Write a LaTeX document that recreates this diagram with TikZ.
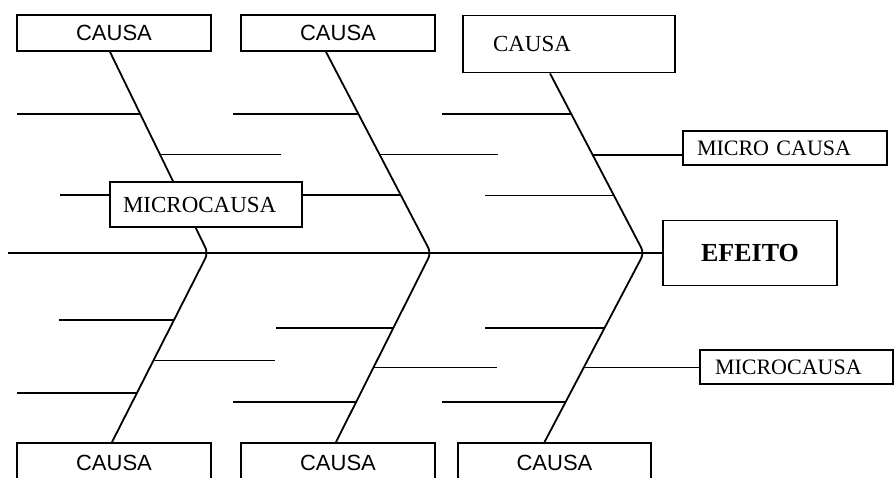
\documentclass[tikz,border=0pt]{standalone}
\usepackage{fontspec}
\setmainfont{Liberation Serif}
\setsansfont{Liberation Sans}
\usetikzlibrary{calc}

\tikzset{
  causebox/.style={draw, fill=white, minimum width=194pt, minimum height=36pt,
    inner sep=0pt, font=\sffamily\fontsize{22}{26}\selectfont},
  microbox/.style={draw, fill=white, minimum height=34pt, inner ysep=0pt,
    align=left, font=\fontsize{22}{26}\selectfont},
}

\begin{document}
\begin{tikzpicture}[x=1pt, y=-1pt, line width=1.8pt]
  \useasboundingbox (0,0) rectangle (894,478);

  % causes above and below the spine
  \node[causebox] (cause1) at (114,33) {CAUSA};
  \node[causebox] (cause2) at (338,33) {CAUSA};
  \node[causebox, minimum width=212pt, minimum height=57pt, inner xsep=30pt,
    text width=152pt, align=left, font=\fontsize{23}{27}\selectfont] (cause3) at (569,44) {CAUSA};
  \node[causebox, minimum height=40pt] (cause4) at (114,463) {CAUSA};
  \node[causebox, minimum height=40pt] (cause5) at (338,463) {CAUSA};
  \node[causebox, minimum height=40pt, minimum width=193pt] (cause6) at (554.5,463) {CAUSA};

  \node[draw, minimum width=174pt, minimum height=65pt,
    font=\bfseries\fontsize{26}{30}\selectfont] (effect) at (750,253) {EFEITO};

  \coordinate (t1) at ([xshift=-4pt]cause1.south);
  \coordinate (t2) at ([xshift=-12pt]cause2.south);
  \coordinate (t3) at ([xshift=-19pt]cause3.south);
  \coordinate (b1) at ([xshift=-2pt]cause4.north);
  \coordinate (b2) at ([xshift=-2pt]cause5.north);
  \coordinate (b3) at ([xshift=-10pt]cause6.north);
  \coordinate (j1) at (208,253);
  \coordinate (j2) at (431,253);
  \coordinate (j3) at (644,253);

  \draw (8,253) -- (effect.west);
  \foreach \n in {1,2,3}
    \draw[rounded corners=6pt] (t\n) -- (j\n) -- (b\n);

  % small bones: start on a cause line, run left (-) or right (+)
  \foreach \a/\b/\t/\l in {t1/j1/0.307/-123, t1/j1/0.51/121, t1/j1/0.713/-120,
      t2/j2/0.307/-125, t2/j2/0.51/118, t3/j3/0.2265/-129, t3/j3/0.68/-129,
      j1/b1/0.3526/-115, j1/b1/0.568/122, j1/b1/0.742/-120,
      j2/b2/0.395/-117, j2/b2/0.605/123, j2/b2/0.789/-123,
      j3/b3/0.395/-120, j3/b3/0.789/-124}
    \draw ($(\a)!\t!(\b)$) -- ++(\l,0);

  \node[microbox, minimum width=192pt, minimum height=45pt, inner xsep=13pt,
    text width=166pt, font=\fontsize{23}{27}\selectfont] (micro1) at (206,204.5) {MICROCAUSA};
  \node[microbox, minimum width=204pt, inner xsep=14pt, text width=176pt] (micro2) at (785,148) {MICRO CAUSA};
  \node[microbox, minimum width=193pt, inner xsep=15pt, text width=163pt] (micro3) at (796.5,367) {MICROCAUSA};

  \coordinate (m1) at ($(t2)!0.713!(j2)$);
  \coordinate (m2) at ($(t3)!0.453!(j3)$);
  \coordinate (m3) at ($(j3)!0.605!(b3)$);
  \draw (m1) -- (m1 -| micro1.east);
  \draw (m2) -- (m2 -| micro2.west);
  \draw (m3) -- (m3 -| micro3.west);
\end{tikzpicture}
\end{document}
